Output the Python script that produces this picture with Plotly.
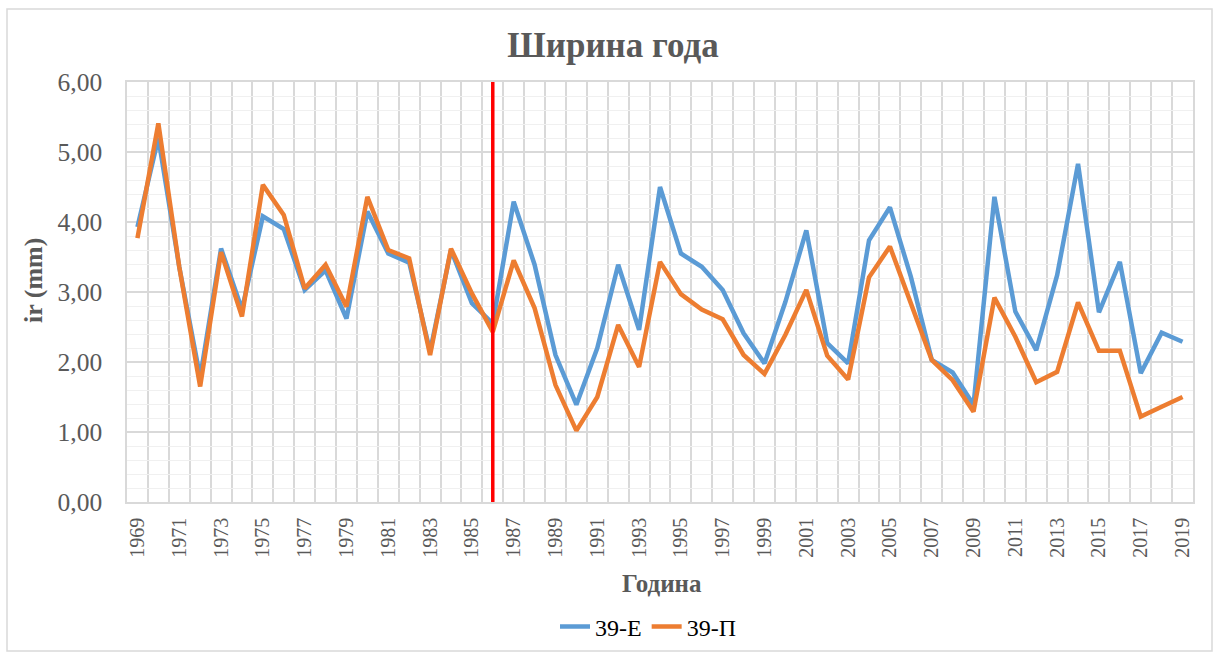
import plotly.graph_objects as go

# Tree-ring width series (mm), one value per year
years = list(range(1969, 2020))
ring_39E = [3.93, 5.20, 3.36, 1.78, 3.62, 2.75, 4.08, 3.90, 3.03, 3.31,
            2.62, 4.15, 3.55, 3.42, 2.15, 3.60, 2.84, 2.55, 4.29, 3.39,
            2.10, 1.39, 2.20, 3.39, 2.46, 4.50, 3.55, 3.36, 3.03, 2.41,
            1.98, 2.86, 3.88, 2.27, 1.98, 3.74, 4.21, 3.22, 2.03, 1.85,
            1.39, 4.36, 2.72, 2.17, 3.24, 4.83, 2.71, 3.43, 1.84, 2.42,
            2.29]
ring_39P = [3.77, 5.41, 3.36, 1.65, 3.57, 2.65, 4.53, 4.10, 3.05, 3.39,
            2.79, 4.36, 3.60, 3.48, 2.10, 3.62, 2.98, 2.43, 3.45, 2.77,
            1.67, 1.02, 1.50, 2.53, 1.93, 3.43, 2.97, 2.75, 2.61, 2.10,
            1.83, 2.39, 3.03, 2.09, 1.75, 3.21, 3.65, 2.84, 2.03, 1.74,
            1.29, 2.92, 2.36, 1.71, 1.86, 2.85, 2.16, 2.16, 1.22, 1.36,
            1.50]
series_names = ["39-Е", "39-П"]
year_ticks = list(range(1969, 2020, 2))
marker_year = 1986

W, H = 1213, 652
ML, MR, MT, MB = 127, 20, 82, 150
PW, PH = W - ML - MR, H - MT - MB

def px_x(p):
    return (p - ML) / PW

def px_y(p):
    return (H - MB - p) / PH

fig = go.Figure()
fig.add_trace(go.Scatter(x=years, y=ring_39E, name=series_names[0], mode="lines",
                         line=dict(color="#5B9BD5", width=4.5)))
fig.add_trace(go.Scatter(x=years, y=ring_39P, name=series_names[1], mode="lines",
                         line=dict(color="#ED7D31", width=4.5)))

# vertical marker line at the break year
fig.add_shape(type="line", xref="x", yref="paper", x0=marker_year, x1=marker_year,
              y0=0, y1=1, line=dict(color="#FF0000", width=3.5), layer="above")

# chart-area border
fig.add_shape(type="rect", xref="paper", yref="paper",
              x0=px_x(7), x1=px_x(1212), y0=px_y(651), y1=px_y(9),
              line=dict(color="#D9D9D9", width=1.5), layer="below")

serif = "Times New Roman, Liberation Serif, serif"
grey = "#595959"

# axis titles
fig.add_annotation(text="<b>Година</b>", xref="paper", yref="paper",
                   x=px_x(662), y=px_y(583), xanchor="center", yanchor="middle",
                   showarrow=False, font=dict(size=25, color=grey, family=serif))
fig.add_annotation(text="<b>ir (mm)</b>", xref="paper", yref="paper",
                   x=px_x(33), y=px_y(281), xanchor="center", yanchor="middle",
                   textangle=-90, showarrow=False,
                   font=dict(size=26, color=grey, family=serif))

fig.update_layout(
    width=W, height=H,
    margin=dict(l=ML, r=MR, t=MT, b=MB),
    paper_bgcolor="white", plot_bgcolor="white",
    separators=", ",
    font=dict(family=serif, color=grey),
    title=dict(text="<b>Ширина года</b>", x=613 / W, xref="container", xanchor="center",
               y=1 - 45 / H, yref="container", yanchor="middle",
               font=dict(size=35, color=grey, family=serif)),
    showlegend=True,
    legend=dict(orientation="h", x=px_x(648), xanchor="center", xref="paper",
                y=1 - 627 / H, yref="container", yanchor="middle",
                font=dict(size=24, color="#000000", family=serif),
                itemwidth=30, tracegroupgap=0),
)

fig.update_xaxes(
    range=[1968.5, 2019.5],
    tickmode="array", tickvals=year_ticks, ticktext=[str(y) for y in year_ticks],
    tickangle=-90, tickfont=dict(size=20, color=grey, family=serif),
    ticks="", ticklabelstandoff=6,
    showgrid=False, zeroline=False,
    minor=dict(tickmode="linear", tick0=1968.5, dtick=1, showgrid=True,
               gridcolor="#D9D9D9", gridwidth=1.5, ticks=""),
    showline=True, mirror=True, linecolor="#D9D9D9", linewidth=1.5,
)

fig.update_yaxes(
    range=[0, 6], tickmode="linear", tick0=0, dtick=1, tickformat=".2f",
    tickfont=dict(size=25.5, color=grey, family=serif),
    ticks="", ticklabelstandoff=18,
    showgrid=True, gridcolor="#D9D9D9", gridwidth=1.5, zeroline=False,
    minor=dict(tickmode="linear", tick0=0, dtick=0.2, showgrid=True,
               gridcolor="#F0F0F0", gridwidth=1.2, ticks=""),
    showline=True, mirror=True, linecolor="#D9D9D9", linewidth=1.5,
)

fig.write_html("out.html")
